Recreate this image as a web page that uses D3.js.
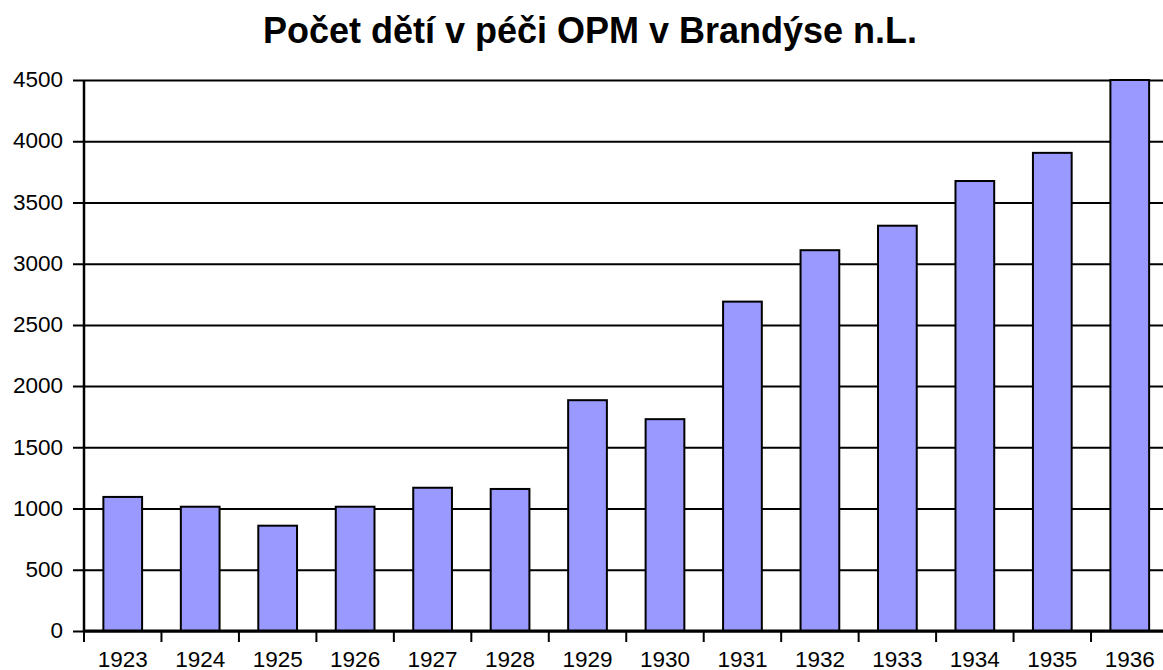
<!DOCTYPE html>
<html>
<head>
<meta charset="utf-8">
<script src="https://cdn.jsdelivr.net/npm/d3@7"></script>
<style>
  html, body { margin: 0; padding: 0; background: #fff; overflow: hidden; }
  svg { display: block; font-family: "Liberation Sans", Arial, sans-serif; }
</style>
</head>
<body>
<svg id="chart" width="1163" height="670"></svg>
<script>
// Values.
const years = ['1923', '1924', '1925', '1926', '1927', '1928', '1929',
               '1930', '1931', '1932', '1933', '1934', '1935', '1936'];
const children = [1095, 1015, 860, 1015, 1170, 1160, 1885,
                  1730, 2690, 3110, 3310, 3675, 3905, 4500];
const yTicks = [0, 500, 1000, 1500, 2000, 2500, 3000, 3500, 4000, 4500];
const title = 'Počet dětí v péči OPM v Brandýse n.L.';

const svg = d3.select('#chart');
const margin = { left: 84, top: 80, bottom: 39 };
const plotW = 1084.5;
const plotH = 670 - margin.top - margin.bottom;

const x = d3.scaleBand()
  .domain(years)
  .range([margin.left, margin.left + plotW])
  .paddingInner(0.5)
  .paddingOuter(0.25);
const y = d3.scaleLinear()
  .domain([0, 4500])
  .range([margin.top + plotH, margin.top]);

// title
svg.append('text')
  .attr('x', 590)
  .attr('y', 43)
  .attr('text-anchor', 'middle')
  .attr('font-size', 36)
  .attr('font-weight', 'bold')
  .text(title);

// gridlines + y axis (ticks stick out left of the axis line)
const yAxis = d3.axisLeft(y)
  .tickValues(yTicks)
  .tickFormat(d3.format('d'))
  .tickSize(-(plotW + 11))
  .tickPadding(10)
  .tickSizeOuter(0);
const gy = svg.append('g')
  .attr('transform', `translate(${margin.left - 11},0)`)
  .call(yAxis);
gy.select('.domain').remove();
gy.selectAll('.tick line')
  .attr('stroke', '#000')
  .attr('stroke-width', 2);
gy.selectAll('.tick text')
  .attr('x', -10)
  .attr('dy', '0.3em')
  .attr('font-size', 22.5)
  .attr('fill', '#000')
  .attr('font-family', '"Liberation Sans", Arial, sans-serif');

// bars
svg.append('g').selectAll('rect')
  .data(years.map((d, i) => ({ year: d, value: children[i] })))
  .join('rect')
  .attr('x', d => x(d.year))
  .attr('y', d => y(d.value))
  .attr('width', x.bandwidth())
  .attr('height', d => y(0) - y(d.value))
  .attr('fill', '#9999ff')
  .attr('stroke', '#000')
  .attr('stroke-width', 2);

// left axis line
svg.append('line')
  .attr('x1', margin.left).attr('x2', margin.left)
  .attr('y1', margin.top).attr('y2', y(0))
  .attr('stroke', '#000')
  .attr('stroke-width', 2.5);

// x axis: labels at band centres, tick marks on the band boundaries
const step = x.step();
const gx = svg.append('g')
  .attr('transform', `translate(0,${y(0)})`);
gx.append('line')
  .attr('x1', margin.left).attr('x2', margin.left + plotW)
  .attr('stroke', '#000')
  .attr('stroke-width', 3);
gx.selectAll('line.tk')
  .data(d3.range(years.length + 1))
  .join('line')
  .attr('class', 'tk')
  .attr('x1', i => x(years[0]) - step * 0.25 + i * step)
  .attr('x2', i => x(years[0]) - step * 0.25 + i * step)
  .attr('y1', 0).attr('y2', 11)
  .attr('stroke', '#000')
  .attr('stroke-width', 2);
gx.selectAll('text')
  .data(years)
  .join('text')
  .attr('x', d => x(d) + x.bandwidth() / 2)
  .attr('y', 36)
  .attr('text-anchor', 'middle')
  .attr('font-size', 22.5)
  .text(d => d);
</script>
</body>
</html>
